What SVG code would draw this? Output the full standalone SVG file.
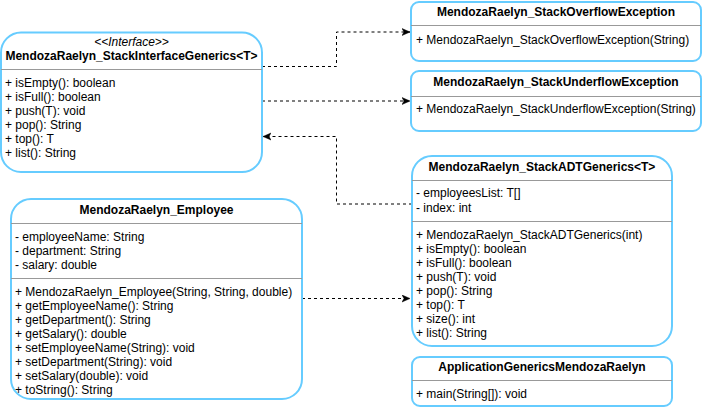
<svg xmlns="http://www.w3.org/2000/svg" width="702" height="407" viewBox="0 0 702 407">
<defs>
<style>
.box{fill:#ffffff;stroke:#66ccff;stroke-width:2}
.div{stroke:#999999;stroke-width:1}
text{font-family:"Liberation Sans",Arial,sans-serif;font-size:12px;fill:#000000}
.t{font-weight:bold;text-anchor:middle}
.st{font-style:italic;text-anchor:middle}
.edge{fill:none;stroke:#000000;stroke-width:1;stroke-dasharray:3,3}
</style>
<marker id="arr" markerWidth="10" markerHeight="10" refX="8" refY="4" orient="auto" markerUnits="userSpaceOnUse">
<path d="M0,0.5 L8,4 L0,7.5 L2,4 Z" fill="#000000" stroke="#000000" stroke-width="0.5"/>
</marker>
</defs>
<rect width="702" height="407" fill="#ffffff"/>
<g id="connectors">
<path class="edge" d="M262,66.5 H336.5 V32 H410" marker-end="url(#arr)"/>
<path class="edge" d="M262,101 H410" marker-end="url(#arr)"/>
<path class="edge" d="M412,204 H336.5 V136.5 H263" marker-end="url(#arr)"/>
<path class="edge" d="M302,298.5 H410" marker-end="url(#arr)"/>
</g>
<g id="interface">
<rect class="box" x="1" y="32.5" width="261" height="139.5" rx="20"/>
<line class="div" x1="1" y1="69.5" x2="262" y2="69.5"/>
<text class="st" x="131.5" y="46">&lt;&lt;Interface&gt;&gt;</text>
<text class="t" x="131.5" y="60">MendozaRaelyn_StackInterfaceGenerics&lt;T&gt;</text>
<text x="5" y="87">+ isEmpty(): boolean</text>
<text x="5" y="101">+ isFull(): boolean</text>
<text x="5" y="115">+ push(T): void</text>
<text x="5" y="129">+ pop(): String</text>
<text x="5" y="143">+ top(): T</text>
<text x="5" y="157">+ list(): String</text>
</g>
<g id="overflow">
<rect class="box" x="411" y="2" width="290" height="59" rx="8"/>
<line class="div" x1="411" y1="25.5" x2="701" y2="25.5"/>
<text class="t" x="556" y="16">MendozaRaelyn_StackOverflowException</text>
<text x="416" y="44">+ MendozaRaelyn_StackOverflowException(String)</text>
</g>
<g id="underflow">
<rect class="box" x="411" y="71" width="290" height="60" rx="8"/>
<line class="div" x1="411" y1="96.5" x2="701" y2="96.5"/>
<text class="t" x="556" y="86">MendozaRaelyn_StackUnderflowException</text>
<text x="416" y="113">+ MendozaRaelyn_StackUnderflowException(String)</text>
</g>
<g id="employee">
<rect class="box" x="11" y="199" width="291" height="200" rx="20"/>
<line class="div" x1="11" y1="223.5" x2="302" y2="223.5"/>
<line class="div" x1="11" y1="278.5" x2="302" y2="278.5"/>
<text class="t" x="156.5" y="214">MendozaRaelyn_Employee</text>
<text x="15" y="241">- employeeName: String</text>
<text x="15" y="255">- department: String</text>
<text x="15" y="269">- salary: double</text>
<text x="15" y="296">+ MendozaRaelyn_Employee(String, String, double)</text>
<text x="15" y="310">+ getEmployeeName(): String</text>
<text x="15" y="324">+ getDepartment(): String</text>
<text x="15" y="338">+ getSalary(): double</text>
<text x="15" y="352">+ setEmployeeName(String): void</text>
<text x="15" y="366">+ setDepartment(String): void</text>
<text x="15" y="380">+ setSalary(double): void</text>
<text x="15" y="394">+ toString(): String</text>
</g>
<g id="stackadt">
<rect class="box" x="412" y="156" width="260" height="190" rx="20"/>
<line class="div" x1="412" y1="180.5" x2="672" y2="180.5"/>
<line class="div" x1="412" y1="221.5" x2="672" y2="221.5"/>
<text class="t" x="542" y="171">MendozaRaelyn_StackADTGenerics&lt;T&gt;</text>
<text x="416" y="197">- employeesList: T[]</text>
<text x="416" y="212">- index: int</text>
<text x="416" y="239">+ MendozaRaelyn_StackADTGenerics(int)</text>
<text x="416" y="253">+ isEmpty(): boolean</text>
<text x="416" y="267">+ isFull(): boolean</text>
<text x="416" y="281">+ push(T): void</text>
<text x="416" y="295">+ pop(): String</text>
<text x="416" y="309">+ top(): T</text>
<text x="416" y="323">+ size(): int</text>
<text x="416" y="337">+ list(): String</text>
</g>
<g id="application">
<rect class="box" x="412" y="357" width="260" height="49" rx="8"/>
<line class="div" x1="412" y1="380.5" x2="672" y2="380.5"/>
<text class="t" x="542" y="371">ApplicationGenericsMendozaRaelyn</text>
<text x="416" y="398">+ main(String[]): void</text>
</g>
</svg>
